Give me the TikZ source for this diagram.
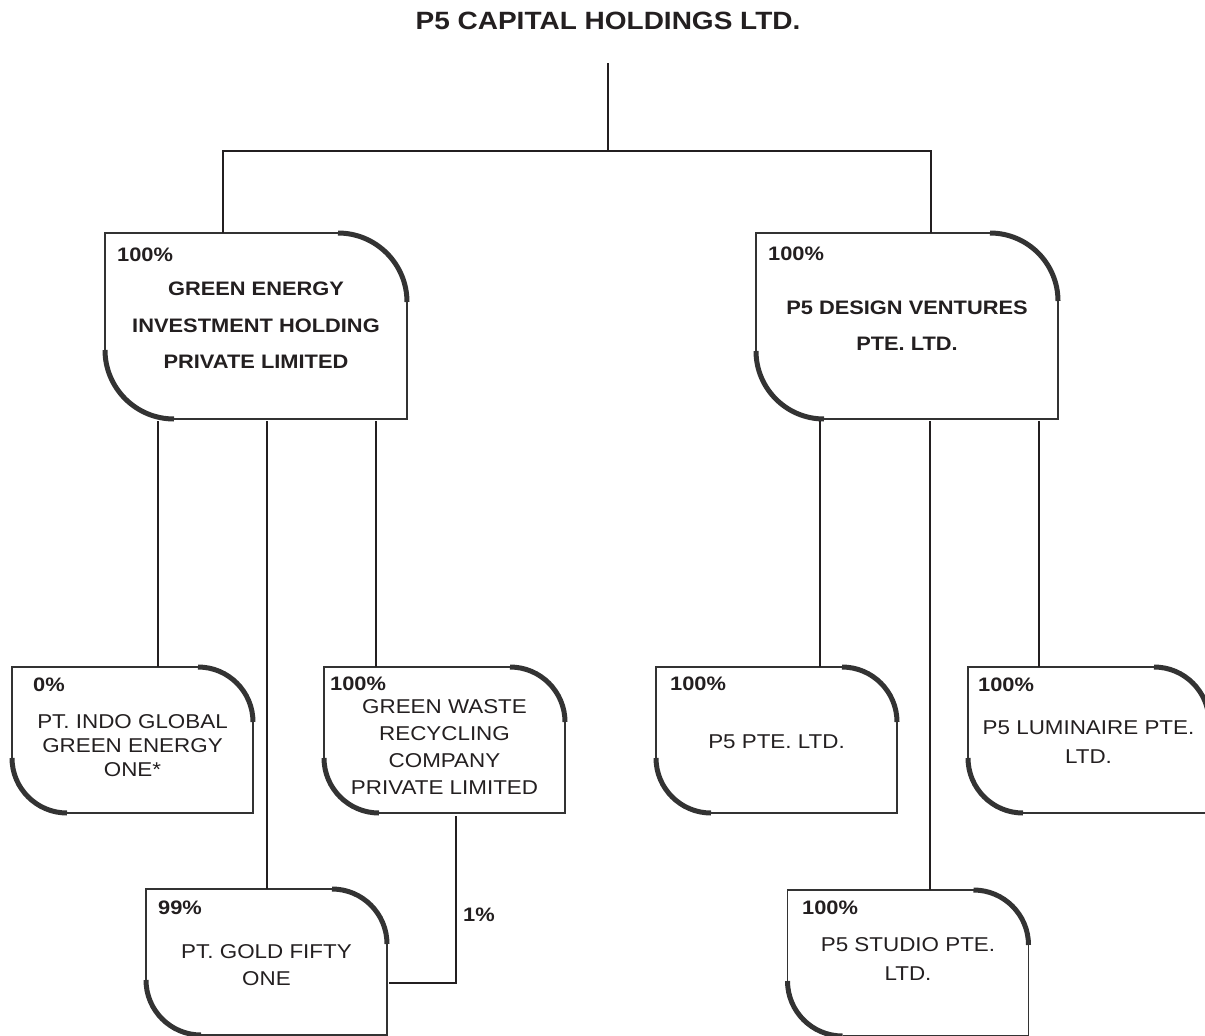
\documentclass[tikz,border=0pt]{standalone}
\usepackage{fontspec}
\setmainfont[FakeStretch=1.12]{Liberation Sans}
\definecolor{ink}{HTML}{231F20}
\definecolor{linec}{HTML}{333333}
\begin{document}
\begin{tikzpicture}[x=1pt,y=-1pt,
  boxshape/.style={draw=none,inner sep=0pt,outer sep=0pt},
  thinline/.style={draw=linec,line width=1.7pt},
  thickarc/.style={draw=linec,line width=5pt},
  conn/.style={draw=ink,line width=2pt},
  pct/.style={anchor=west,inner sep=0pt,text=ink,font=\fontsize{19.5}{22}\selectfont\bfseries},
  bname/.style={align=center,inner sep=0pt,text=ink,font=\fontsize{19.5}{#1}\selectfont\bfseries},
  rname/.style={align=center,inner sep=0pt,text=ink,font=\fontsize{20}{#1}\selectfont},
]
\useasboundingbox (0,0) rectangle (1205,1036);
\newcommand{\fancyframe}[2]{%
  \draw[thinline] ([yshift=#2]#1.south west) -- (#1.north west) -- ([xshift=-#2]#1.north east);
  \draw[thinline] ([yshift=-#2]#1.north east) -- (#1.south east) -- ([xshift=#2]#1.south west);
  \draw[thickarc] ([xshift=-#2]#1.north east) arc[start angle=90,end angle=0,radius=#2];
  \draw[thickarc] ([yshift=#2]#1.south west) arc[start angle=180,end angle=270,radius=#2];
}

% title
\node[inner sep=0pt,text=ink,font=\fontsize{25}{28}\selectfont\bfseries] (title) at (608,21) {P5 CAPITAL HOLDINGS LTD.};
\coordinate (top) at (608,63);
\coordinate (bus) at (608,151);

% boxes
\node[boxshape,minimum width=302pt,minimum height=186pt] (ge) at (256,326) {};
\node[boxshape,minimum width=302pt,minimum height=186pt] (dv) at (907,326) {};
\node[boxshape,minimum width=241pt,minimum height=146pt] (indo) at (132.5,740) {};
\node[boxshape,minimum width=241pt,minimum height=146pt] (waste) at (444.5,740) {};
\node[boxshape,minimum width=241pt,minimum height=146pt] (p5) at (776.5,740) {};
\node[boxshape,minimum width=241pt,minimum height=146pt] (lum) at (1088.5,740) {};
\node[boxshape,minimum width=241pt,minimum height=146pt] (gold) at (266.5,962) {};
\node[boxshape,minimum width=241pt,minimum height=146pt] (studio) at (908,963) {};

\fancyframe{ge}{69pt}
\fancyframe{dv}{68pt}
\fancyframe{indo}{55pt}
\fancyframe{waste}{55pt}
\fancyframe{p5}{55pt}
\fancyframe{lum}{55pt}
\fancyframe{gold}{55pt}
\fancyframe{studio}{55pt}

% percentages
\node[pct] (pge) at (117,255) {100\%};
\node[pct] (pdv) at (768,254) {100\%};
\node[pct] (pindo) at (33,685) {0\%};
\node[pct] (pwaste) at (330,684) {100\%};
\node[pct] (pp5) at (670,684) {100\%};
\node[pct] (plum) at (978,685) {100\%};
\node[pct] (pgold) at (158,908) {99\%};
\node[pct] (pstudio) at (802,908) {100\%};

% names
\node[bname=36.5pt] (tge) at (256,325.5) {GREEN ENERGY\\INVESTMENT HOLDING\\PRIVATE LIMITED};
\node[bname=35.5pt] (tdv) at (907,325.5) {P5 DESIGN VENTURES\\PTE. LTD.};
\node[rname=24pt] (tindo) at (132.5,746) {PT. INDO GLOBAL\\GREEN ENERGY\\ONE*};
\node[rname=26.7pt] (twaste) at (444.5,747) {GREEN WASTE\\RECYCLING\\COMPANY\\PRIVATE LIMITED};
\node[rname=24pt] (tp5) at (776.5,742) {P5 PTE. LTD.};
\node[rname=29pt] (tlum) at (1088.5,742) {P5 LUMINAIRE PTE.\\LTD.};
\node[rname=27.5pt] (tgold) at (266.5,965) {PT. GOLD FIFTY\\ONE};
\node[rname=28.5pt] (tstudio) at (908,959) {P5 STUDIO PTE.\\LTD.};

% connectors
\draw[conn] (top) -- (bus);
\draw[conn] ([xshift=-33pt]ge.north) |- (bus) -| ([xshift=24pt]dv.north);
\draw[conn] ([xshift=-98pt,yshift=-2pt]ge.south) -- ([xshift=-98pt]ge.south |- indo.north);
\draw[conn] ([yshift=-2pt]ge.south -| gold.north) -- (gold.north);
\draw[conn] ([xshift=120pt,yshift=-2pt]ge.south) -- ([xshift=120pt]ge.south |- waste.north);
\draw[conn] ([xshift=-87pt,yshift=-2pt]dv.south) -- ([xshift=-87pt]dv.south |- p5.north);
\draw[conn] ([xshift=23pt,yshift=-2pt]dv.south) -- ([xshift=23pt]dv.south |- studio.north);
\draw[conn] ([xshift=132pt,yshift=-2pt]dv.south) -- ([xshift=132pt]dv.south |- lum.north);
\draw[conn] ([xshift=11.5pt,yshift=-3pt]waste.south) |- ([xshift=2pt,yshift=-21pt]gold.east);
\node[pct] (pone) at (463,915) {1\%};
\end{tikzpicture}
\end{document}
